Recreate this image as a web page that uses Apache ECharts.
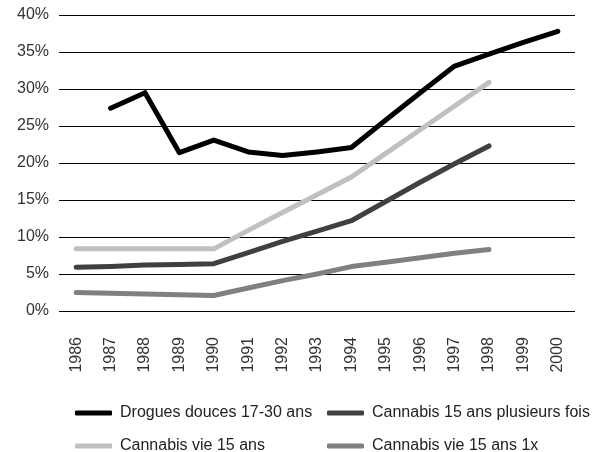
<!DOCTYPE html>
<html><head><meta charset="utf-8">
<script src="https://cdn.jsdelivr.net/npm/echarts@6/dist/echarts.min.js"></script>
<style>html,body{margin:0;padding:0;background:#fff}#c{width:605px;height:452px}</style>
</head><body><div id="c"></div>
<script>
const years = ['1986','1987','1988','1989','1990','1991','1992','1993','1994','1995','1996','1997','1998','1999','2000'];
const yTicks = [0,5,10,15,20,25,30,35,40];
const drogues = [null,27.4,29.5,21.4,23.1,21.5,21.0,21.5,22.1,25.8,29.5,33.1,34.7,36.3,37.8];
const plusieurs = [5.9,6.0,6.2,6.3,6.4,7.9,9.4,10.8,12.2,14.8,17.4,19.9,22.3,null,null];
const vie = [8.4,8.4,8.4,8.4,8.4,10.9,13.3,15.7,18.1,21.3,24.5,27.7,30.9,null,null];
const vie1x = [2.5,2.4,2.3,2.2,2.1,3.1,4.1,5.0,6.0,6.6,7.2,7.8,8.3,null,null];
const names = ['Drogues douces 17-30 ans','Cannabis 15 ans plusieurs fois','Cannabis vie 15 ans','Cannabis vie 15 ans 1x'];
const colors = ['#000000','#404040','#c0c0c0','#808080'];
const FONT = '"Liberation Sans", Arial, sans-serif';

const chart = echarts.init(document.getElementById('c'));
function mkSeries(i, data){
  return {name:names[i], type:'line', data:data, showSymbol:false, symbol:'none', connectNulls:false,
    lineStyle:{width:5, color:colors[i], cap:'round', join:'round'}, itemStyle:{color:colors[i]}, z: 10-i};
}
const legPos = [[70,400],[322,400],[70,433],[322,433]];
chart.setOption({
  animation:false,
  textStyle:{fontFamily:FONT},
  grid:{left:59, right:30, top:15, bottom:141},
  xAxis:{type:'category', data:years, boundaryGap:true,
    axisLine:{show:false}, axisTick:{show:false},
    axisLabel:{rotate:90, margin:26, fontSize:16, color:'#333', fontFamily:FONT}},
  yAxis:{type:'value', min:yTicks[0], max:yTicks[yTicks.length-1], interval:5,
    axisLine:{show:false}, axisTick:{show:false},
    splitLine:{lineStyle:{color:'#000', width:1}},
    axisLabel:{formatter:'{value}%', fontSize:16, color:'#333', margin:10, fontFamily:FONT}},
  legend: names.map((n,i)=>({data:[n], left:legPos[i][0], top:legPos[i][1], itemWidth:37, itemHeight:5, icon:'roundRect', itemGap:8,
    textStyle:{fontSize:16, color:'#222', fontFamily:FONT, padding:[0,0,0,3]}})),
  series:[mkSeries(0,drogues), mkSeries(1,plusieurs), mkSeries(2,vie), mkSeries(3,vie1x)]
});
</script></body></html>
